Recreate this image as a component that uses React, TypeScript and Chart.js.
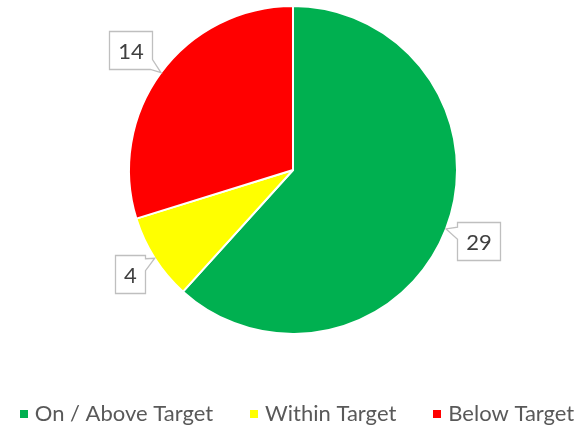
import React, { useEffect, useRef } from "react";
import { Chart, registerables } from "chart.js";

Chart.register(...registerables);

const categories = ["On / Above Target", "Within Target", "Below Target"];
const values = [29, 4, 14];
const colors = ["#00B050", "#FFFF00", "#FF0000"];

const FONT = "Lato, 'Open Sans', sans-serif";

function perimPoint(x0: number, y0: number, W: number, H: number, s: number) {
  const L = 2 * W + 2 * H;
  s = ((s % L) + L) % L;
  if (s <= W) return [x0 + s, y0];
  if (s <= W + H) return [x0 + W, y0 + (s - W)];
  if (s <= 2 * W + H) return [x0 + W - (s - W - H), y0 + H];
  return [x0, y0 + H - (s - 2 * W - H)];
}

function toPerim(x0: number, y0: number, W: number, H: number, px: number, py: number) {
  const e = 0.01;
  if (Math.abs(py - y0) < e) return px - x0;
  if (Math.abs(px - (x0 + W)) < e) return W + (py - y0);
  if (Math.abs(py - (y0 + H)) < e) return W + H + (x0 + W - px);
  return 2 * W + H + (y0 + H - py);
}

const calloutPlugin = {
  id: "callouts",
  afterDatasetsDraw(chart: any) {
    const ctx = chart.ctx;
    const meta = chart.getDatasetMeta(0);
    const ds = chart.data.datasets[0];
    ctx.save();
    ctx.font = `22px ${FONT}`;
    meta.data.forEach((arc: any, i: number) => {
      const { x, y, startAngle, endAngle, outerRadius } = arc.getProps(
        ["x", "y", "startAngle", "endAngle", "outerRadius"],
        true
      );
      const mid = (startAngle + endAngle) / 2;
      const dx = Math.cos(mid);
      const dy = Math.sin(mid);
      const tipX = x + outerRadius * dx;
      const tipY = y + outerRadius * dy;
      const text = String(ds.data[i]);
      const tw = ctx.measureText(text).width;
      const hw = tw / 2 + 8.5;
      const hh = 19;
      const t = Math.min(hw / Math.max(Math.abs(dx), 1e-6), hh / Math.max(Math.abs(dy), 1e-6));
      const gap = 12;
      const cx = tipX + dx * (t + gap);
      const cy = tipY + dy * (t + gap);
      const x0 = Math.round(cx - hw) + 0.5;
      const y0 = Math.round(cy - hh) + 0.5;
      const W = Math.round(hw * 2);
      const H = hh * 2;
      const px = cx - dx * t;
      const py = cy - dy * t;
      const cpx = Math.min(Math.max(px, x0), x0 + W);
      const cpy = Math.min(Math.max(py, y0), y0 + H);
      let snapX = cpx, snapY = cpy;
      const dl = Math.abs(cpx - x0), dr = Math.abs(cpx - (x0 + W));
      const dt = Math.abs(cpy - y0), db = Math.abs(cpy - (y0 + H));
      const m = Math.min(dl, dr, dt, db);
      if (m === dl) snapX = x0;
      else if (m === dr) snapX = x0 + W;
      else if (m === dt) snapY = y0;
      else snapY = y0 + H;
      const sP = toPerim(x0, y0, W, H, snapX, snapY);
      const L = 2 * W + 2 * H;
      const w = 6;
      const start = sP + w;
      const end = sP - w + L;
      ctx.beginPath();
      const p0 = perimPoint(x0, y0, W, H, start);
      ctx.moveTo(p0[0], p0[1]);
      const corners = [0, W, W + H, 2 * W + H];
      const cs: number[] = [];
      for (let k = -1; k <= 2; k++) {
        corners.forEach((c) => {
          const cc = c + k * L;
          if (cc > start && cc < end) cs.push(cc);
        });
      }
      cs.sort((a, b) => a - b).forEach((c) => {
        const p = perimPoint(x0, y0, W, H, c);
        ctx.lineTo(p[0], p[1]);
      });
      const p1 = perimPoint(x0, y0, W, H, end);
      ctx.lineTo(p1[0], p1[1]);
      ctx.lineTo(tipX, tipY);
      ctx.closePath();
      ctx.fillStyle = "#FFFFFF";
      ctx.fill();
      ctx.strokeStyle = "#BFBFBF";
      ctx.lineWidth = 1.3;
      ctx.stroke();
      ctx.fillStyle = "#404040";
      ctx.textAlign = "center";
      ctx.textBaseline = "middle";
      ctx.fillText(text, x0 + W / 2, y0 + H / 2 + 1);
    });
    ctx.restore();
  },
};

const legendPlugin = {
  id: "customLegend",
  afterDraw(chart: any) {
    const ctx = chart.ctx;
    const labels = chart.data.labels as string[];
    const bg = chart.data.datasets[0].backgroundColor as string[];
    ctx.save();
    ctx.font = `22px ${FONT}`;
    const box = 8;
    const boxGap = 7;
    const itemGap = 37;
    const widths = labels.map((l) => box + boxGap + ctx.measureText(l).width);
    const total = widths.reduce((a, b) => a + b, 0) + itemGap * (labels.length - 1);
    let x = (chart.width - total) / 2 + 5;
    const cy = 414;
    labels.forEach((l, i) => {
      ctx.fillStyle = bg[i];
      ctx.fillRect(Math.round(x), cy - 4, box, box);
      ctx.fillStyle = "#595959";
      ctx.textAlign = "left";
      ctx.textBaseline = "middle";
      ctx.fillText(l, x + box + boxGap, cy);
      x += widths[i] + itemGap;
    });
    ctx.restore();
  },
};

export default function App() {
  const ref = useRef<HTMLCanvasElement | null>(null);
  useEffect(() => {
    if (!ref.current) return;
    const chart = new Chart(ref.current, {
      type: "pie",
      data: {
        labels: categories,
        datasets: [
          {
            data: values,
            backgroundColor: colors,
            borderColor: "#FFFFFF",
            borderWidth: 2,
          },
        ],
      },
      options: {
        animation: false,
        responsive: true,
        maintainAspectRatio: false,
        layout: { padding: { top: 5, bottom: 95, left: 2, right: 0 } },
        plugins: {
          legend: { display: false },
          tooltip: { enabled: false },
        },
      },
      plugins: [calloutPlugin, legendPlugin],
    });
    return () => chart.destroy();
  }, []);
  return (
    <div
      style={{
        position: "fixed",
        left: 0,
        top: 0,
        width: 584,
        height: 430,
        background: "#FFFFFF",
      }}
    >
      <canvas ref={ref} />
    </div>
  );
}
